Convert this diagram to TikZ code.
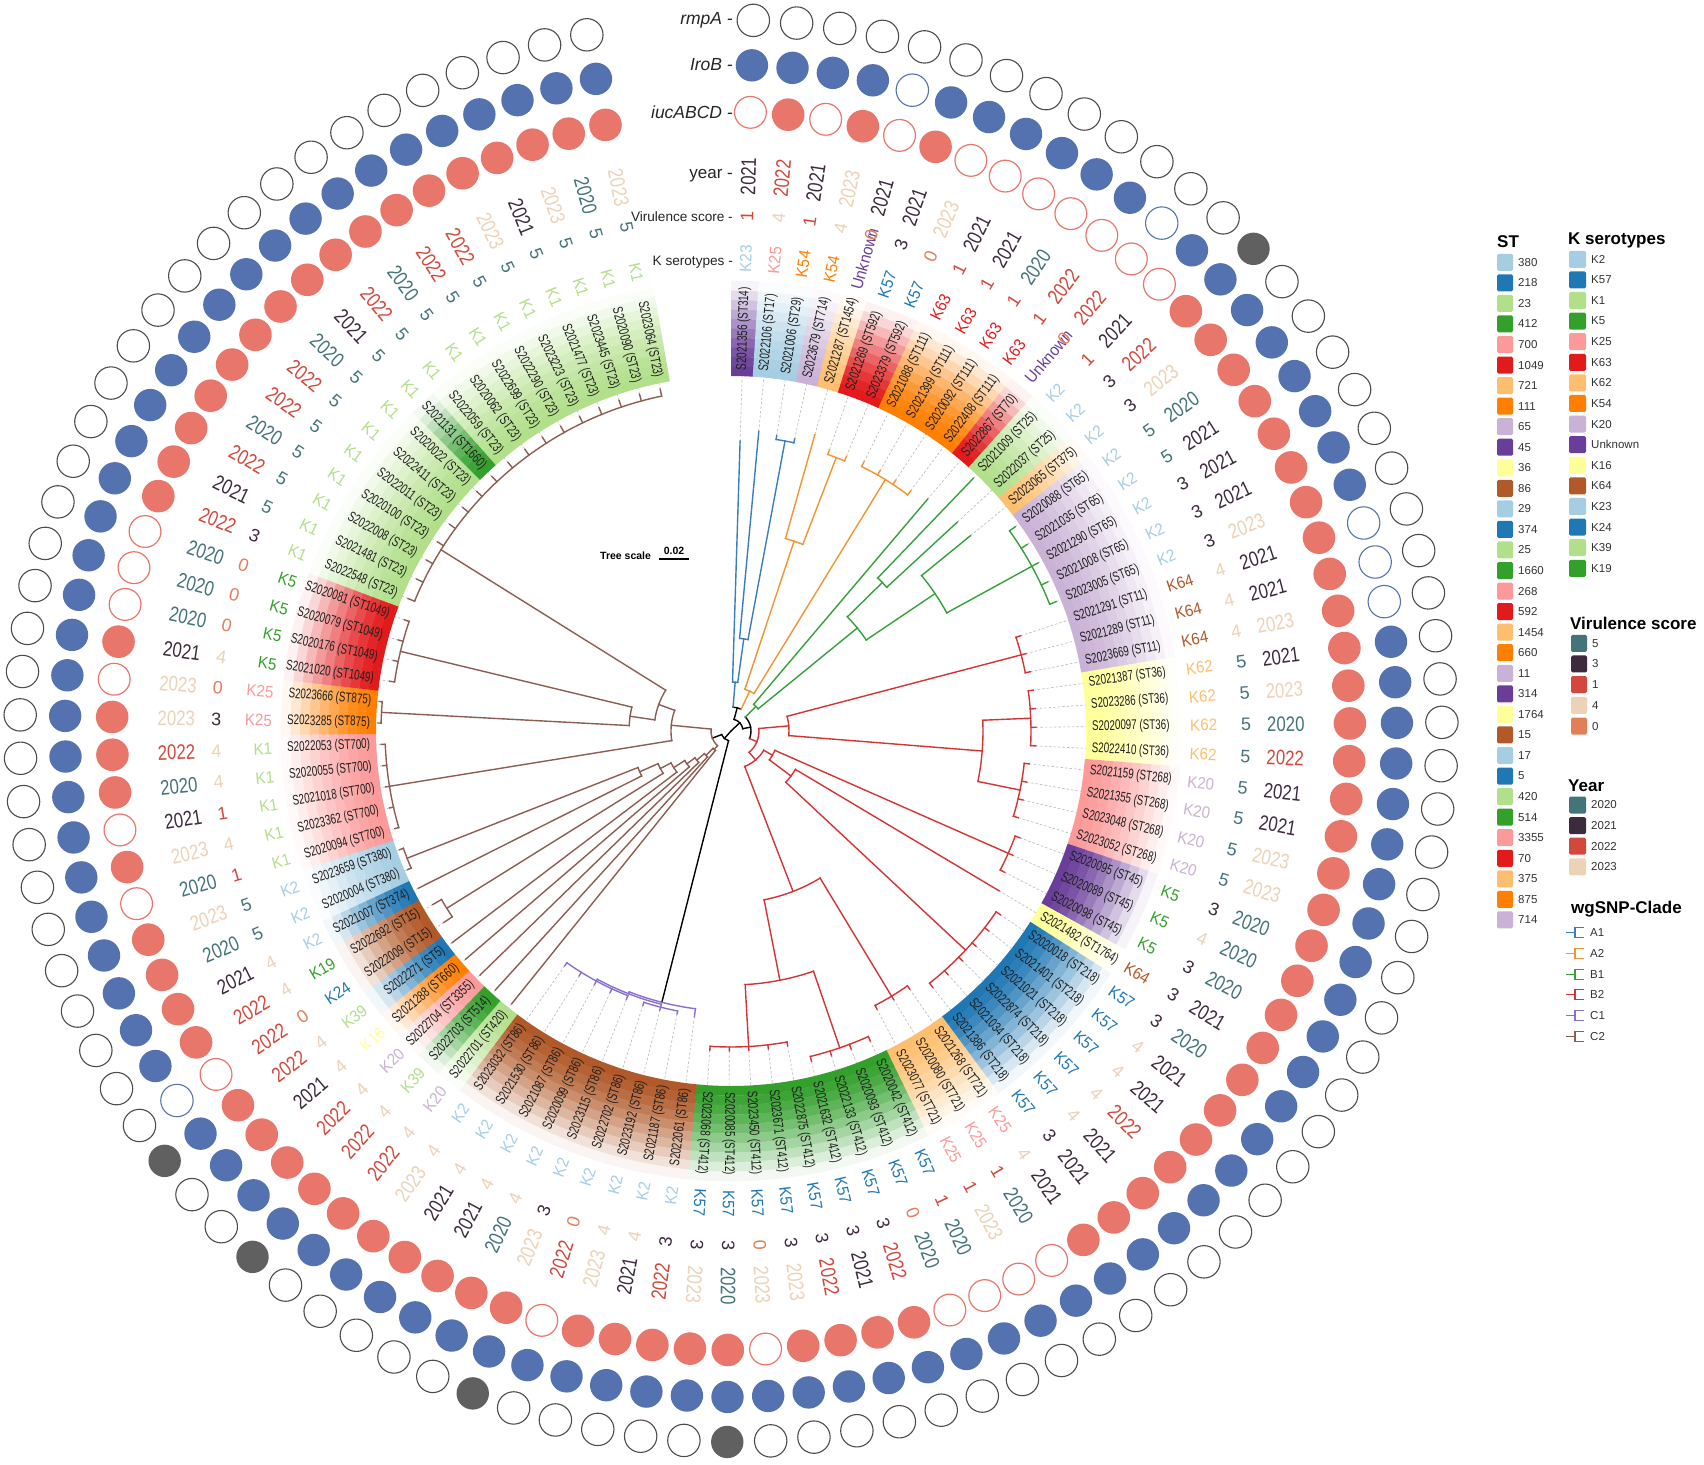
\documentclass[tikz,border=0pt]{standalone}
\usepackage{fontspec}
\setmainfont{Liberation Sans}
\newfontfamily\labf[FakeStretch=0.7]{Liberation Sans}
\newfontfamily\yrf[FakeStretch=0.8]{Liberation Sans}
\newfontfamily\kf[FakeStretch=0.92]{Liberation Sans}
\definecolor{pLB}{HTML}{A6CEE3}\definecolor{pB}{HTML}{1F78B4}
\definecolor{pLG}{HTML}{B2DF8A}\definecolor{pG}{HTML}{33A02C}
\definecolor{pPk}{HTML}{FB9A99}\definecolor{pR}{HTML}{E31A1C}
\definecolor{pLO}{HTML}{FDBF6F}\definecolor{pO}{HTML}{FF7F00}
\definecolor{pLP}{HTML}{CAB2D6}\definecolor{pP}{HTML}{6A3D9A}
\definecolor{pY}{HTML}{FFFF99}\definecolor{pBr}{HTML}{B15928}
\definecolor{vc5}{HTML}{42747A}\definecolor{vc3}{HTML}{3D2B3D}
\definecolor{vc1}{HTML}{D2483C}\definecolor{vc4}{HTML}{ECD3B8}
\definecolor{vc0}{HTML}{E27E58}
\definecolor{yc2020}{HTML}{42747A}\definecolor{yc2021}{HTML}{3D2B3D}
\definecolor{yc2022}{HTML}{D2483C}\definecolor{yc2023}{HTML}{ECD3B8}
\definecolor{iuccol}{HTML}{E8766A}\definecolor{irocol}{HTML}{5472B0}
\definecolor{rmpcol}{HTML}{606060}
\definecolor{cA1}{HTML}{3A7EC0}\definecolor{cA2}{HTML}{F39433}
\definecolor{cB1}{HTML}{36A03A}\definecolor{cB2}{HTML}{D43434}
\definecolor{cC1}{HTML}{8B6FD0}\definecolor{cC2}{HTML}{8E5D52}
\newcommand\RB[4]{\draw[#1] (#2:#3pt) -- (#2:#4pt);}
\newcommand\AR[4]{\draw[#1] (#2:#4pt) arc[start angle=#2, end angle=#3, radius=#4pt];}
\newcommand\LV[5]{\foreach \jj in {#2,...,#3}{\pgfmathsetmacro\aa{88.2-3.5*(\jj-1)}\draw[#1] (\aa:#4pt) -- (\aa:#5pt);}}
\begin{document}
\begin{tikzpicture}[
  tr/.style={line width=1.4pt, line cap=rect},
  tB/.style={tr, black}, tA1/.style={tr, cA1}, tA2/.style={tr, cA2},
  tB1/.style={tr, cB1}, tB2/.style={tr, cB2}, tC1/.style={tr, cC1}, tC2/.style={tr, cC2},
  dashl/.style={draw=black!28, line width=0.6pt, dash pattern=on 2.5pt off 2pt},
  labtxt/.style={font=\labf\fontsize{14}{14}\selectfont, inner sep=0pt, text=black!88},
  ktxt/.style={font=\kf\fontsize{16.5}{16.5}\selectfont, inner sep=0pt},
  vtxt/.style={font=\fontsize{18}{18}\selectfont, inner sep=0pt},
  ytxt/.style={font=\yrf\fontsize{21}{21}\selectfont, inner sep=0pt},
  iucF/.style={fill=iuccol}, iucO/.style={draw=iuccol, line width=1.2pt},
  iroF/.style={fill=irocol}, iroO/.style={draw=irocol, line width=1.1pt},
  rmpF/.style={fill=rmpcol}, rmpO/.style={draw=black!70, line width=1.1pt},
  trk/.style={anchor=east, inner sep=0pt, text=black!85},
  legtxt/.style={font=\fontsize{11.5}{11.5}\selectfont, inner sep=0pt, text=black!80, anchor=west},
  legttl/.style={font=\bfseries\fontsize{17}{17}\selectfont, inner sep=0pt, anchor=base west}
]
\useasboundingbox (-731pt,-733pt) rectangle (973pt,731pt);
\fill[white] (-731pt,-733pt) rectangle (973pt,731pt);

\foreach \ii/\lab/\stc/\kk/\kc/\vs/\yr/\iro/\rmp/\tip in {
1/S2021356 (ST314)/pP/K23/pLB/1/2021/F/O/290,
2/S2022106 (ST17)/pLB/K25/pPk/4/2022/F/O/301,
3/S2021006 (ST29)/pLB/K54/pO/1/2021/F/O/299,
4/S2023679 (ST714)/pLP/K54/pO/4/2023/F/O/299,
5/S2021287 (ST1454)/pLO/Unknown/pP/0/2021/O/O/308,
6/S2021269 (ST592)/pR/K57/pB/3/2021/F/O/298,
7/S2023379 (ST592)/pR/K57/pB/0/2023/F/O/298,
8/S2021088 (ST111)/pO/K63/pR/1/2021/F/O/300,
9/S2021399 (ST111)/pO/K63/pR/1/2021/F/O/300,
10/S2020092 (ST111)/pO/K63/pR/1/2020/F/O/300,
11/S2022408 (ST111)/pO/K63/pR/1/2022/F/O/300,
12/S2022867 (ST70)/pR/Unknown/pP/0/2022/O/O/304,
13/S2021009 (ST25)/pLG/K2/pLB/1/2021/F/O/350,
14/S2022037 (ST25)/pLG/K2/pLB/3/2022/F/F/308,
15/S2023065 (ST375)/pLO/K2/pLB/3/2023/F/O/309,
16/S2020088 (ST65)/pLP/K2/pLB/5/2020/F/O/350,
17/S2021035 (ST65)/pLP/K2/pLB/5/2021/F/O/350,
18/S2021290 (ST65)/pLP/K2/pLB/3/2021/F/O/350,
19/S2021008 (ST65)/pLP/K2/pLB/3/2021/F/O/350,
20/S2023005 (ST65)/pLP/K2/pLB/3/2023/F/O/350,
21/S2021291 (ST11)/pLP/K64/pBr/4/2021/O/O/305,
22/S2021289 (ST11)/pLP/K64/pBr/4/2021/O/O/305,
23/S2023669 (ST11)/pLP/K64/pBr/4/2023/O/O/305,
24/S2021387 (ST36)/pY/K62/pLO/5/2021/F/O/305,
25/S2023286 (ST36)/pY/K62/pLO/5/2023/F/O/305,
26/S2020097 (ST36)/pY/K62/pLO/5/2020/F/O/305,
27/S2022410 (ST36)/pY/K62/pLO/5/2022/F/O/305,
28/S2021159 (ST268)/pPk/K20/pLP/5/2021/F/O/300,
29/S2021355 (ST268)/pPk/K20/pLP/5/2021/F/O/300,
30/S2023048 (ST268)/pPk/K20/pLP/5/2023/F/O/300,
31/S2023052 (ST268)/pPk/K20/pLP/5/2023/F/O/300,
32/S2020095 (ST45)/pP/K5/pG/3/2020/F/O/308,
33/S2020089 (ST45)/pP/K5/pG/4/2020/F/O/308,
34/S2020098 (ST45)/pP/K5/pG/3/2020/F/O/308,
35/S2021482 (ST1764)/pY/K64/pBr/3/2021/F/O/312,
36/S2020018 (ST218)/pB/K57/pB/3/2020/F/O/326,
37/S2021401 (ST218)/pB/K57/pB/4/2021/F/O/326,
38/S2021021 (ST218)/pB/K57/pB/4/2021/F/O/326,
39/S2022874 (ST218)/pB/K57/pB/4/2022/F/O/326,
40/S2021034 (ST218)/pB/K57/pB/4/2021/F/O/326,
41/S2021386 (ST218)/pB/K57/pB/3/2021/F/O/326,
42/S2021268 (ST721)/pLO/K25/pPk/4/2021/F/O/314,
43/S2020080 (ST721)/pLO/K25/pPk/1/2020/F/O/314,
44/S2023077 (ST721)/pLO/K25/pPk/1/2023/F/O/314,
45/S2020042 (ST412)/pG/K57/pB/1/2020/F/O/340,
46/S2020093 (ST412)/pG/K57/pB/0/2020/F/O/340,
47/S2022133 (ST412)/pG/K57/pB/3/2022/F/O/340,
48/S2021632 (ST412)/pG/K57/pB/3/2021/F/O/340,
49/S2022875 (ST412)/pG/K57/pB/3/2022/F/O/320,
50/S2023671 (ST412)/pG/K57/pB/3/2023/F/O/320,
51/S2023450 (ST412)/pG/K57/pB/0/2023/F/O/320,
52/S2020085 (ST412)/pG/K57/pB/3/2020/F/F/320,
53/S2023068 (ST412)/pG/K57/pB/3/2023/F/O/320,
54/S2022061 (ST86)/pBr/K2/pLB/3/2022/F/O/288,
55/S2021187 (ST86)/pBr/K2/pLB/4/2021/F/O/288,
56/S2023192 (ST86)/pBr/K2/pLB/4/2023/F/O/288,
57/S2022702 (ST86)/pBr/K2/pLB/0/2022/F/O/288,
58/S2023115 (ST86)/pBr/K2/pLB/3/2023/F/F/288,
59/S2020099 (ST86)/pBr/K2/pLB/4/2020/F/O/288,
60/S2021087 (ST86)/pBr/K2/pLB/4/2021/F/O/288,
61/S2021530 (ST86)/pBr/K2/pLB/4/2021/F/O/288,
62/S2023032 (ST86)/pBr/K2/pLB/4/2023/F/O/288,
63/S2022701 (ST420)/pLG/K20/pLP/4/2022/F/O/350,
64/S2022703 (ST514)/pG/K39/pLG/4/2022/F/F/350,
65/S2022704 (ST3355)/pPk/K20/pLP/4/2022/F/O/350,
66/S2021288 (ST660)/pO/K16/pY/4/2021/F/O/350,
67/S2022271 (ST5)/pB/K39/pLG/4/2022/F/F/350,
68/S2022009 (ST15)/pBr/K24/pB/0/2022/O/O/345,
69/S2022692 (ST15)/pBr/K19/pG/4/2022/F/O/345,
70/S2021007 (ST374)/pB/K2/pLB/4/2021/F/O/350,
71/S2020004 (ST380)/pLB/K2/pLB/5/2020/F/O/352,
72/S2023659 (ST380)/pLB/K2/pLB/5/2023/F/O/352,
73/S2020094 (ST700)/pPk/K1/pLG/1/2020/F/O/350,
74/S2023362 (ST700)/pPk/K1/pLG/4/2023/F/O/350,
75/S2021018 (ST700)/pPk/K1/pLG/1/2021/F/O/350,
76/S2020055 (ST700)/pPk/K1/pLG/4/2020/F/O/350,
77/S2022053 (ST700)/pPk/K1/pLG/4/2022/F/O/350,
78/S2023285 (ST875)/pO/K25/pPk/3/2023/F/O/353,
79/S2023666 (ST875)/pO/K25/pPk/0/2023/F/O/353,
80/S2021020 (ST1049)/pR/K5/pG/4/2021/F/O/345,
81/S2020176 (ST1049)/pR/K5/pG/0/2020/F/O/345,
82/S2020079 (ST1049)/pR/K5/pG/0/2020/F/O/345,
83/S2020081 (ST1049)/pR/K5/pG/0/2020/F/O/345,
84/S2022548 (ST23)/pLG/K1/pLG/3/2022/F/O/349,
85/S2021481 (ST23)/pLG/K1/pLG/5/2021/F/O/349,
86/S2022008 (ST23)/pLG/K1/pLG/5/2022/F/O/349,
87/S2020100 (ST23)/pLG/K1/pLG/5/2020/F/O/349,
88/S2022011 (ST23)/pLG/K1/pLG/5/2022/F/O/349,
89/S2022411 (ST23)/pLG/K1/pLG/5/2022/F/O/349,
90/S2020022 (ST23)/pLG/K1/pLG/5/2020/F/O/349,
91/S2021131 (ST1660)/pG/K1/pLG/5/2021/F/O/349,
92/S2022059 (ST23)/pLG/K1/pLG/5/2022/F/O/349,
93/S2020062 (ST23)/pLG/K1/pLG/5/2020/F/O/349,
94/S2022699 (ST23)/pLG/K1/pLG/5/2022/F/O/349,
95/S2022290 (ST23)/pLG/K1/pLG/5/2022/F/O/349,
96/S2023223 (ST23)/pLG/K1/pLG/5/2023/F/O/349,
97/S2021477 (ST23)/pLG/K1/pLG/5/2021/F/O/349,
98/S2023445 (ST23)/pLG/K1/pLG/5/2023/F/O/349,
99/S2020090 (ST23)/pLG/K1/pLG/5/2020/F/O/349,
100/S2023064 (ST23)/pLG/K1/pLG/5/2023/F/O/349}{
  \pgfmathsetmacro\ang{88.2-3.5*(\ii-1)}
  \ifnum\ii>53 \pgfmathsetmacro\rot{\ang+180}\def\anc{east}\else\let\rot\ang\def\anc{west}\fi
  \foreach \q [count=\n from 0] in {100,95,88,79,68,56,44,31,18,6}{
    \pgfmathsetmacro\ra{355+9.5*\n}
    \pgfmathsetmacro\rb{\ra+9.8}
    \fill[\stc!\q!white] (\ang-1.78:\ra pt) arc[start angle=\ang-1.78, end angle=\ang+1.78, radius=\ra pt]
      -- (\ang+1.78:\rb pt) arc[start angle=\ang+1.78, end angle=\ang-1.78, radius=\rb pt] -- cycle;
  }
  \draw[dashl] (\ang:\tip pt) -- (\ang:355pt);
  \node[labtxt, rotate=\rot, anchor=\anc] (lab\ii) at (\ang:361pt) {\lab};
  \node[ktxt, text=\kc, rotate=\rot, anchor=\anc] (k\ii) at (\ang:459pt) {\kk};
  \node[vtxt, text=vc\vs, rotate=\rot] (v\ii) at (\ang:515pt) {\vs};
  \node[ytxt, text=yc\yr, rotate=\rot, anchor=\anc] (y\ii) at (\ang:536pt) {\yr};
  \ifnum\vs>2 \path[iucF] (\ang:619pt) circle (16.3pt);\else\path[iucO] (\ang:619pt) circle (15.9pt);\fi
  \path[iro\iro] (\ang:666pt) circle (16.2pt);
  \path[rmp\rmp] (\ang:711pt) circle (16.2pt);
}

% ---------- tree ----------
% root backbone
\RB{tB}{43.1}{0}{12}
\AR{tB}{75.05}{11.1}{12}
\RB{tB}{75.05}{12}{24}
\AR{tB}{85.1}{65.0}{24}
\RB{tB}{11.1}{12}{20}
\AR{tB}{44.45}{-22.25}{20}
\RB{tB}{228.35}{0}{10}
\AR{tB}{201}{255.7}{10}
\RB{tB}{255.7}{10}{280}
\RB{tB}{201}{10}{20}
% A1
\RB{tA1}{85.1}{24}{49}
\AR{tA1}{88.2}{82.1}{49}
\RB{tA1}{88.2}{49}{290}
\RB{tA1}{82.1}{49}{93}
\AR{tA1}{84.7}{79.45}{93}
\RB{tA1}{84.7}{93}{301}
\RB{tA1}{79.45}{93}{295}
\AR{tA1}{81.2}{77.7}{295}
\LV{tA1}{3}{4}{295}{299}
% A2
\RB{tA2}{65.0}{24}{44}
\AR{tA2}{71.6}{58.45}{44}
\RB{tA2}{71.6}{44}{200}
\AR{tA2}{74.2}{68.95}{200}
\RB{tA2}{74.2}{200}{308}
\RB{tA2}{68.95}{200}{293}
\AR{tA2}{70.7}{67.2}{293}
\LV{tA2}{6}{7}{293}{298}
\RB{tA2}{58.45}{44}{295}
\AR{tA2}{63.7}{53.2}{295}
\LV{tA2}{8}{11}{295}{300}
% B1
\RB{tB1}{44.45}{20}{35}
\AR{tB1}{49.7}{39.2}{35}
\RB{tB1}{49.7}{35}{304}
\RB{tB1}{39.2}{35}{163}
\AR{tB1}{44.45}{33.95}{163}
\RB{tB1}{44.45}{163}{212}
\AR{tB1}{46.2}{42.7}{212}
\RB{tB1}{46.2}{212}{350}
\RB{tB1}{42.7}{212}{308}
\RB{tB1}{33.95}{163}{246}
\AR{tB1}{39.2}{28.7}{246}
\RB{tB1}{39.2}{246}{309}
\RB{tB1}{28.7}{246}{343}
\AR{tB1}{35.7}{21.7}{343}
\LV{tB1}{16}{20}{343}{350}
% B2
\RB{tB2}{-22.25}{20}{28}
\AR{tB2}{5.1}{-49.6}{28}
\RB{tB2}{5.1}{28}{58}
\AR{tB2}{14.7}{-4.55}{58}
\RB{tB2}{14.7}{58}{300}
\AR{tB2}{18.2}{11.2}{300}
\LV{tB2}{21}{23}{300}{305}
\RB{tB2}{-4.55}{58}{252}
\AR{tB2}{2.45}{-11.55}{252}
\RB{tB2}{2.45}{252}{300}
\AR{tB2}{7.7}{-2.8}{300}
\LV{tB2}{24}{27}{300}{305}
\RB{tB2}{-11.55}{252}{295}
\AR{tB2}{-6.3}{-16.8}{295}
\LV{tB2}{28}{31}{295}{300}
\RB{tB2}{-49.6}{28}{38}
\AR{tB2}{-30.4}{-68.85}{38}
\RB{tB2}{-30.4}{38}{48}
\AR{tB2}{-23.8}{-36.9}{48}
\RB{tB2}{-23.8}{48}{303}
\AR{tB2}{-20.3}{-27.3}{303}
\LV{tB2}{32}{34}{303}{308}
\RB{tB2}{-36.9}{48}{75}
\AR{tB2}{-30.8}{-43.05}{75}
\RB{tB2}{-30.8}{75}{312}
\RB{tB2}{-43.05}{75}{321}
\AR{tB2}{-34.3}{-51.8}{321}
\LV{tB2}{36}{41}{321}{326}
\RB{tB2}{-68.85}{38}{172}
\AR{tB2}{-58.8}{-78.9}{172}
\RB{tB2}{-58.8}{172}{310}
\AR{tB2}{-55.3}{-62.3}{310}
\LV{tB2}{42}{44}{310}{314}
\RB{tB2}{-78.9}{172}{254}
\AR{tB2}{-71.05}{-86.8}{254}
\RB{tB2}{-71.05}{254}{335}
\AR{tB2}{-65.8}{-76.3}{335}
\LV{tB2}{45}{48}{335}{340}
\RB{tB2}{-86.8}{254}{316}
\AR{tB2}{-79.8}{-93.8}{316}
\LV{tB2}{49}{53}{316}{320}
% C1
\AR{tC1}{-97.3}{-111.3}{280}
\RB{tC1}{-97.3}{280}{288}
\RB{tC1}{-111.3}{280}{282}
\AR{tC1}{-104.3}{-118.3}{282}
\RB{tC1}{-104.3}{282}{285}
\AR{tC1}{-100.8}{-107.8}{285}
\LV{tC1}{55}{57}{285}{288}
\RB{tC1}{-118.3}{282}{284}
\AR{tC1}{-111.3}{-125.3}{284}
\LV{tC1}{58}{62}{284}{288}
% C2
\AR{tC2}{174.5}{227.6}{20}
\RB{tC2}{174.5}{20}{60}
\AR{tC2}{159.85}{189.2}{60}
\RB{tC2}{159.85}{60}{77}
\AR{tC2}{148}{171.7}{77}
\RB{tC2}{148}{77}{342}
\AR{tC2}{157.7}{101.7}{342}
\LV{tC2}{84}{100}{342}{349}
\RB{tC2}{171.7}{77}{102}
\AR{tC2}{166.45}{176.95}{102}
\RB{tC2}{166.45}{102}{340}
\AR{tC2}{171.7}{161.2}{340}
\LV{tC2}{80}{83}{340}{345}
\RB{tC2}{176.95}{102}{350}
\AR{tC2}{178.7}{175.2}{350}
\LV{tC2}{78}{79}{350}{353}
\RB{tC2}{189.2}{60}{346}
\AR{tC2}{182.2}{196.2}{346}
\LV{tC2}{73}{77}{346}{350}
\RB{tC2}{227.6}{20}{25}
\AR{tC2}{231.2}{224.1}{25}
\RB{tC2}{231.2}{25}{350}
\RB{tC2}{224.1}{25}{35}
\AR{tC2}{227.7}{220.4}{35}
\RB{tC2}{227.7}{35}{350}
\RB{tC2}{220.4}{35}{45}
\AR{tC2}{224.2}{216.65}{45}
\RB{tC2}{224.2}{45}{350}
\RB{tC2}{216.65}{45}{55}
\AR{tC2}{220.7}{212.6}{55}
\RB{tC2}{220.7}{55}{350}
\RB{tC2}{212.6}{55}{68}
\AR{tC2}{217.2}{208.0}{68}
\RB{tC2}{217.2}{68}{350}
\RB{tC2}{208.0}{68}{80}
\AR{tC2}{211.95}{204.1}{80}
\RB{tC2}{211.95}{80}{335}
\AR{tC2}{213.7}{210.2}{335}
\LV{tC2}{68}{69}{335}{345}
\RB{tC2}{204.1}{80}{100}
\AR{tC2}{206.7}{201.45}{100}
\RB{tC2}{206.7}{100}{350}
\RB{tC2}{201.45}{100}{348}
\AR{tC2}{203.2}{199.7}{348}
\LV{tC2}{71}{72}{348}{352}

% ---------- track labels ----------
\node[trk, font=\itshape\fontsize{17.5}{17.5}\selectfont] (trmp) at (2pt,711pt) {rmpA -};
\node[trk, font=\itshape\fontsize{17.5}{17.5}\selectfont] (tiro) at (2pt,666pt) {IroB -};
\node[trk, font=\itshape\fontsize{17.5}{17.5}\selectfont] (tiuc) at (2pt,619pt) {iucABCD -};
\node[trk, font=\fontsize{17}{17}\selectfont] (tyr) at (2pt,555pt) {year -};
\node[trk, font=\fontsize{13.6}{13.6}\selectfont] (tvir) at (2pt,514pt) {Virulence score -};
\node[trk, font=\fontsize{13.6}{13.6}\selectfont] (tk) at (2pt,469pt) {K serotypes -};

% ---------- tree scale ----------
\node[font=\bfseries\fontsize{10.5}{10.5}\selectfont, anchor=west, inner sep=0pt] (tsc) at (-131pt,175.5pt) {Tree scale};
\node[font=\bfseries\fontsize{10.5}{10.5}\selectfont, inner sep=0pt] (tsv) at (-57pt,180.5pt) {0.02};
\draw[line width=1.2pt] (-72pt,172pt) -- (-42pt,172pt);

% ---------- legends ----------
\node[legttl] (lst) at (766pt,483pt) {ST};
\foreach \lbl/\col [count=\n from 0] in {380/pLB,218/pB,23/pLG,412/pG,700/pPk,1049/pR,721/pLO,111/pO,65/pLP,45/pP,36/pY,86/pBr,29/pLB,374/pB,25/pLG,1660/pG,268/pPk,592/pR,1454/pLO,660/pO,11/pLP,314/pP,1764/pY,15/pBr,17/pLB,5/pB,420/pLG,514/pG,3355/pPk,70/pR,375/pLO,875/pO,714/pLP}{
  \pgfmathsetmacro\yy{731-262.3-20.55*\n}
  \fill[\col, rounded corners=1.5pt] (766pt,\yy pt-8.5pt) rectangle (782pt,\yy pt+8.5pt);
  \node[legtxt] (lst\n) at (787pt,\yy pt) {\lbl};
}
\node[legttl] (lk) at (837pt,486pt) {K serotypes};
\foreach \lbl/\col [count=\n from 0] in {K2/pLB,K57/pB,K1/pLG,K5/pG,K25/pPk,K63/pR,K62/pLO,K54/pO,K20/pLP,Unknown/pP,K16/pY,K64/pBr,K23/pLB,K24/pB,K39/pLG,K19/pG}{
  \pgfmathsetmacro\yy{731-259.3-20.6*\n}
  \fill[\col, rounded corners=1.5pt] (838pt,\yy pt-8.5pt) rectangle (855pt,\yy pt+8.5pt);
  \node[legtxt] (lk\n) at (860pt,\yy pt) {\lbl};
}
\node[legttl] (lv) at (839pt,101pt) {Virulence score};
\foreach \lbl [count=\n from 0] in {5,3,1,4,0}{
  \pgfmathsetmacro\yy{731-643.3-20.7*\n}
  \fill[vc\lbl, rounded corners=1.5pt] (840pt,\yy pt-8.5pt) rectangle (856pt,\yy pt+8.5pt);
  \node[legtxt] (lv\n) at (861pt,\yy pt) {\lbl};
}
\node[legttl] (ly) at (837pt,-60pt) {Year};
\foreach \lbl [count=\n from 0] in {2020,2021,2022,2023}{
  \pgfmathsetmacro\yy{731-805-20.6*\n}
  \fill[yc\lbl, rounded corners=1.5pt] (838pt,\yy pt-8.5pt) rectangle (855pt,\yy pt+8.5pt);
  \node[legtxt] (ly\n) at (860pt,\yy pt) {\lbl};
}
\node[legttl] (lc) at (840pt,-182pt) {wgSNP-Clade};
\foreach \lbl/\col [count=\n from 0] in {A1/cA1,A2/cA2,B1/cB1,B2/cB2,C1/cC1,C2/cC2}{
  \pgfmathsetmacro\yy{731-932.7-20.7*\n}
  \draw[\col, line width=1.1pt] (835pt,\yy pt) -- (844pt,\yy pt)
     (853pt,\yy pt+5pt) -- (844pt,\yy pt+5pt) -- (844pt,\yy pt-5pt) -- (853pt,\yy pt-5pt);
  \node[legtxt] (lc\n) at (859pt,\yy pt) {\lbl};
}
\end{tikzpicture}
\end{document}
